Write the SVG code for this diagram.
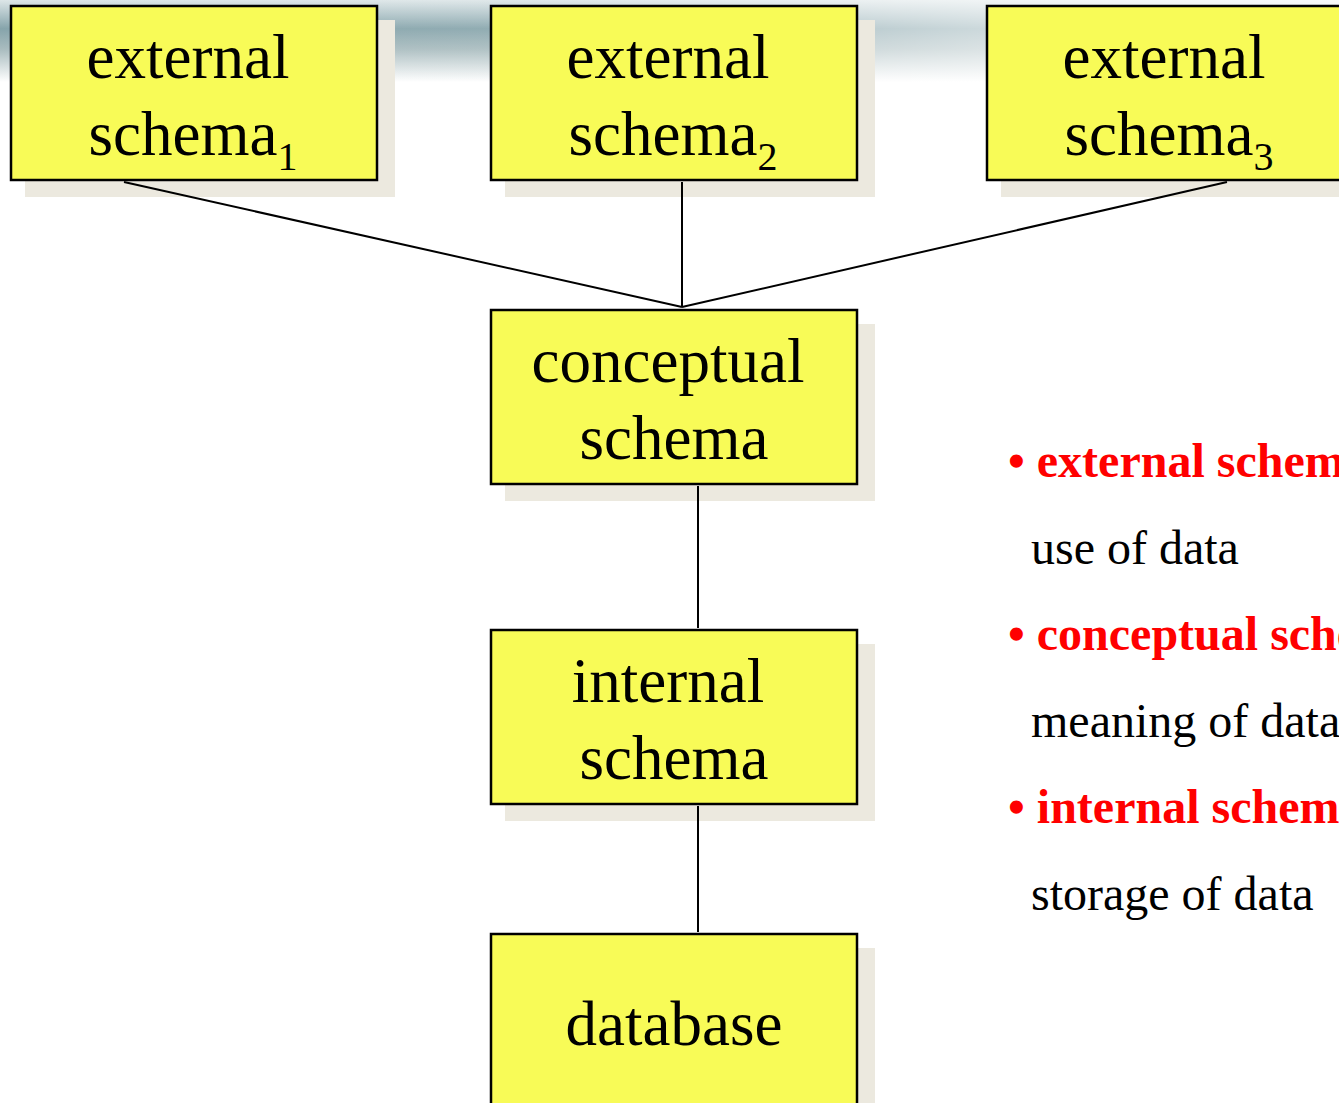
<svg xmlns="http://www.w3.org/2000/svg" width="1339" height="1103" viewBox="0 0 1339 1103">
<defs>
<linearGradient id="bandV" x1="0" y1="0" x2="0" y2="1">
<stop offset="0" stop-color="#dde6e8"/>
<stop offset="0.35" stop-color="#86a4ab"/>
<stop offset="0.6" stop-color="#a9bcbf"/>
<stop offset="1" stop-color="#ffffff"/>
</linearGradient>
<linearGradient id="bandH" x1="0" y1="0" x2="1" y2="0">
<stop offset="0" stop-color="#ffffff" stop-opacity="0"/>
<stop offset="0.4" stop-color="#ffffff" stop-opacity="0.1"/>
<stop offset="0.75" stop-color="#ffffff" stop-opacity="0.6"/>
<stop offset="1" stop-color="#ffffff" stop-opacity="0.8"/>
</linearGradient>
</defs>
<style>
.shadow{fill:#ece9df}
.box{fill:#f8fb57;stroke:#000;stroke-width:2.5}
.lbl{font-family:"Liberation Serif","Times New Roman",serif;font-size:63px;fill:#000;text-anchor:middle}
.sub{font-size:40px}
.conn line{stroke:#000;stroke-width:2}
.bul{font-family:"Liberation Serif","Times New Roman",serif;font-size:48px;font-weight:bold;fill:#ff0000}
.desc{font-family:"Liberation Serif","Times New Roman",serif;font-size:48px;fill:#000}
</style>
<rect x="0" y="0" width="1339" height="1103" fill="#ffffff"/>
<rect x="0" y="0" width="1339" height="82" fill="url(#bandV)"/>
<rect x="0" y="0" width="1339" height="82" fill="url(#bandH)"/>

<g id="ext1">
<rect class="shadow" x="25" y="20" width="370" height="177"/>
<rect class="box" x="11" y="6" width="366" height="174"/>
<text class="lbl" x="188" y="78">external</text>
<text class="lbl" x="193" y="155">schema<tspan class="sub" dy="15">1</tspan></text>
</g>
<g id="ext2">
<rect class="shadow" x="505" y="20" width="370" height="177"/>
<rect class="box" x="491" y="6" width="366" height="174"/>
<text class="lbl" x="668" y="78">external</text>
<text class="lbl" x="673" y="155">schema<tspan class="sub" dy="15">2</tspan></text>
</g>
<g id="ext3">
<rect class="shadow" x="1001" y="20" width="370" height="177"/>
<rect class="box" x="987" y="6" width="366" height="174"/>
<text class="lbl" x="1164" y="78">external</text>
<text class="lbl" x="1169" y="155">schema<tspan class="sub" dy="15">3</tspan></text>
</g>
<g id="conceptual">
<rect class="shadow" x="505" y="324" width="370" height="177"/>
<rect class="box" x="491" y="310" width="366" height="174"/>
<text class="lbl" x="668" y="382">conceptual</text>
<text class="lbl" x="674" y="459">schema</text>
</g>
<g id="internal">
<rect class="shadow" x="505" y="644" width="370" height="177"/>
<rect class="box" x="491" y="630" width="366" height="174"/>
<text class="lbl" x="668" y="702">internal</text>
<text class="lbl" x="674" y="779">schema</text>
</g>
<g id="database">
<rect class="shadow" x="505" y="948" width="370" height="177"/>
<rect class="box" x="491" y="934" width="366" height="200"/>
<text class="lbl" x="674" y="1045">database</text>
</g>

<g class="conn">
<line x1="124" y1="182" x2="682" y2="307"/>
<line x1="682" y1="182" x2="682" y2="307"/>
<line x1="1227" y1="182" x2="682" y2="307"/>
<line x1="698" y1="486" x2="698" y2="628"/>
<line x1="698" y1="806" x2="698" y2="932"/>
</g>

<g id="legend">
<text class="bul" x="1008" y="477">• external schema</text>
<text class="desc" x="1031" y="564">use of data</text>
<text class="bul" x="1008" y="650">• conceptual schema</text>
<text class="desc" x="1031" y="737">meaning of data</text>
<text class="bul" x="1008" y="823">• internal schema</text>
<text class="desc" x="1031" y="910">storage of data</text>
</g>
</svg>
